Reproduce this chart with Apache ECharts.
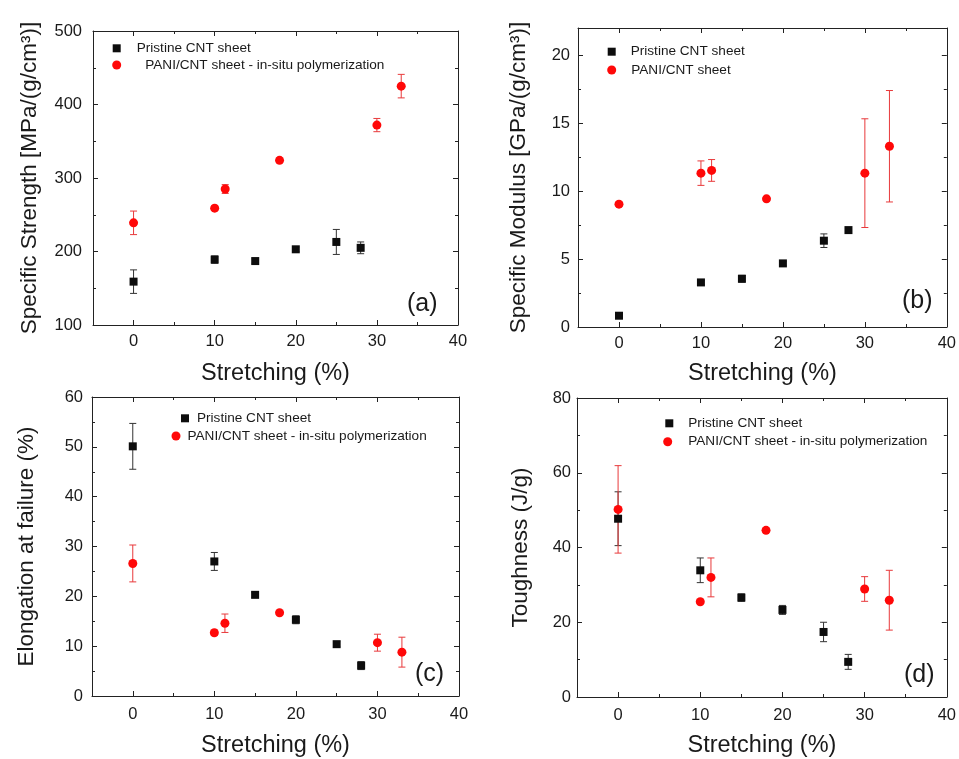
<!DOCTYPE html>
<html>
<head>
<meta charset="utf-8">
<script src="https://cdn.jsdelivr.net/npm/echarts@6/dist/echarts.min.js"></script>
<style>html,body{margin:0;padding:0;background:#fff}#c{width:959px;height:759px}</style>
</head>
<body>
<div id="c"></div>
<script>
// ---------- data ----------
const stretchPristine = [0, 10, 15, 20, 25, 28];
const stretchPani = [0, 10, 11.3, 18, 30, 33];

const strengthPristine = [159, 189, 187, 203, 213, 205];
const strengthPristineErr = [16, 5, 3, 3, 17, 8];
const strengthPani = [239, 259, 285, 324, 372, 425];
const strengthPaniErr = [16, 3, 6, 3, 9, 16];

const modulusPristine = [0.83, 3.28, 3.55, 4.68, 6.35, 7.13];
const modulusPristineErr = [0.1, 0.15, 0.25, 0.15, 0.5, 0.15];
const modulusPani = [9.04, 11.32, 11.52, 9.43, 11.32, 13.3];
const modulusPaniErr = [0.15, 0.9, 0.8, 0.15, 4.0, 4.1];

const elongPristine = [50.1, 27.0, 20.3, 15.3, 10.4, 6.1];
const elongPristineErr = [4.6, 1.8, 0.5, 0.8, 0.5, 0.8];
const elongPani = [26.6, 12.7, 14.6, 16.7, 10.7, 8.8];
const elongPaniErr = [3.7, 0.5, 1.85, 0.3, 1.7, 3.0];

const toughPristine = [47.7, 33.9, 26.6, 23.3, 17.4, 9.4];
const toughPristineErr = [7.2, 3.3, 1.0, 1.2, 2.6, 2.0];
const toughPani = [50.2, 25.5, 32.0, 44.6, 28.9, 25.9];
const toughPaniErr = [11.7, 0.5, 5.2, 0.5, 3.3, 8.0];

const xTicks = [0, 10, 20, 30, 40];
const xMinorTicks = [5, 15, 25, 35];
const strengthTicks = [100, 200, 300, 400, 500];
const strengthMinor = [150, 250, 350, 450];
const modulusTicks = [0, 5, 10, 15, 20];
const modulusMinor = [2.5, 7.5, 12.5, 17.5];
const elongTicks = [0, 10, 20, 30, 40, 50, 60];
const elongMinor = [5, 15, 25, 35, 45, 55];
const toughTicks = [0, 20, 40, 60, 80];
const toughMinor = [10, 30, 50, 70];

const namePristine = 'Pristine CNT sheet';
const namePaniInSitu = 'PANI/CNT sheet - in-situ polymerization';
const namePani = 'PANI/CNT sheet';
const xTitle = 'Stretching (%)';

// ---------- layout ----------
const FONT = '"Liberation Sans", Arial, sans-serif';
const TXT = '#1a1a1a';
const panels = [
  {grid: {left: 93, top: 31, width: 365, height: 294}, yMin: 100, yMax: 500, yTicks: strengthTicks, yMinor: strengthMinor,
   yName: 'Specific Strength [MPa/(g/cm³)]', yNameGap: 52, yLabelMargin: 11, xLabelMargin: 8, xNameGap: 37,
   p: strengthPristine, pe: strengthPristineErr, r: strengthPani, re: strengthPaniErr, rName: namePaniInSitu,
   label: '(a)', labelPos: [407, 292],
   leg: [[116.7, 48.3, 11], [116.7, 65, 19]]},
  {grid: {left: 578, top: 28, width: 370, height: 299}, yMin: 0, yMax: 22, yTicks: modulusTicks, yMinor: modulusMinor,
   yName: 'Specific Modulus [GPa/(g/cm³)]', yNameGap: 48, yLabelMargin: 8, xLabelMargin: 8, xNameGap: 35,
   p: modulusPristine, pe: modulusPristineErr, r: modulusPani, re: modulusPaniErr, rName: namePani,
   label: '(b)', labelPos: [902, 289],
   leg: [[611.7, 51.7, 10], [611.7, 70, 10]]},
  {grid: {left: 92, top: 397, width: 367, height: 299}, yMin: 0, yMax: 60, yTicks: elongTicks, yMinor: elongMinor,
   yName: 'Elongation at failure (%)', yNameGap: 54, yLabelMargin: 9, xLabelMargin: 10, xNameGap: 38,
   p: elongPristine, pe: elongPristineErr, r: elongPani, re: elongPaniErr, rName: namePaniInSitu,
   label: '(c)', labelPos: [415, 662],
   leg: [[185, 418.3, 3], [176, 436, 2]]},
  {grid: {left: 577, top: 398, width: 371, height: 299}, yMin: 0, yMax: 80, yTicks: toughTicks, yMinor: toughMinor,
   yName: 'Toughness (J/g)', yNameGap: 45, yLabelMargin: 6, xLabelMargin: 10, xNameGap: 37,
   p: toughPristine, pe: toughPristineErr, r: toughPani, re: toughPaniErr, rName: namePaniInSitu,
   label: '(d)', labelPos: [904, 663],
   leg: [[669.3, 423.3, 10], [667.7, 441.7, 11]]}
];

const axisLineStyle = {color: '#222', width: 1};
function makeAxes(g, pos, min, max, majors, minors, main) {
  const base = {gridIndex: g, type: 'value', position: pos, min: min, max: max, splitLine: {show: false}};
  const a = Object.assign({}, base, {
    axisLine: {show: true, onZero: false, lineStyle: axisLineStyle},
    axisTick: {show: true, inside: true, length: 5, customValues: majors, lineStyle: axisLineStyle},
    axisLabel: main ? Object.assign({show: true, customValues: majors, fontFamily: FONT, fontSize: 16.5, color: TXT}, main.label)
                    : {show: false}
  });
  if (main && main.name) Object.assign(a, main.name);
  const b = Object.assign({}, base, {
    axisLine: {show: false, onZero: false},
    axisTick: {show: true, inside: true, length: 3, customValues: minors, lineStyle: axisLineStyle},
    axisLabel: {show: false}
  });
  return [a, b];
}

function errRender(color) {
  return function (params, api) {
    const x = api.value(0), y = api.value(1), e = api.value(2);
    const t = api.coord([x, y + e]);
    const b = api.coord([x, y - e]);
    const w = 3.5;
    const st = {stroke: color, lineWidth: 1};
    return {type: 'group', children: [
      {type: 'line', shape: {x1: t[0], y1: t[1], x2: b[0], y2: b[1]}, style: st},
      {type: 'line', shape: {x1: t[0] - w, y1: t[1], x2: t[0] + w, y2: t[1]}, style: st},
      {type: 'line', shape: {x1: b[0] - w, y1: b[1], x2: b[0] + w, y2: b[1]}, style: st}
    ]};
  };
}

const option = {animation: false, backgroundColor: '#fff', grid: [], xAxis: [], yAxis: [], series: [], legend: [], title: []};
const BLACK = '#0d0d0d', RED = '#ff0808', REDERR = '#e8393b', BLACKERR = '#333';

panels.forEach((P, g) => {
  option.grid.push(Object.assign({containLabel: false}, P.grid));
  const xMain = {label: {margin: P.xLabelMargin},
    name: {name: xTitle, nameLocation: 'middle', nameGap: P.xNameGap, nameTextStyle: {fontFamily: FONT, fontSize: 23.5, color: TXT}}};
  const yMain = {label: {margin: P.yLabelMargin},
    name: {name: P.yName, nameLocation: 'middle', nameGap: P.yNameGap, nameTextStyle: {fontFamily: FONT, fontSize: 22.5, color: TXT}}};
  option.xAxis.push(...makeAxes(g, 'bottom', -5, 40, xTicks, xMinorTicks, xMain));
  option.xAxis.push(...makeAxes(g, 'top', -5, 40, xTicks, xMinorTicks, null));
  option.yAxis.push(...makeAxes(g, 'left', P.yMin, P.yMax, P.yTicks, P.yMinor, yMain));
  option.yAxis.push(...makeAxes(g, 'right', P.yMin, P.yMax, P.yTicks, P.yMinor, null));
  const xi = 4 * g, yi = 4 * g;
  const pData = stretchPristine.map((x, i) => [x, P.p[i], P.pe[i]]);
  const rData = stretchPani.map((x, i) => [x, P.r[i], P.re[i]]);
  option.series.push(
    {type: 'custom', name: 'err-p-' + g, xAxisIndex: xi, yAxisIndex: yi, data: pData, encode: {x: 0, y: 1}, renderItem: errRender(BLACKERR), z: 1, silent: true},
    {type: 'custom', name: 'err-r-' + g, xAxisIndex: xi, yAxisIndex: yi, data: rData, encode: {x: 0, y: 1}, renderItem: errRender(REDERR), z: 1, silent: true},
    {type: 'scatter', name: namePristine, xAxisIndex: xi, yAxisIndex: yi, data: pData.map(d => [d[0], d[1]]), symbol: 'rect', symbolSize: 8, itemStyle: {color: BLACK, opacity: 1}, z: 3},
    {type: 'scatter', name: P.rName, xAxisIndex: xi, yAxisIndex: yi, data: rData.map(d => [d[0], d[1]]), symbol: 'circle', symbolSize: 9, itemStyle: {color: RED, opacity: 1}, z: 3}
  );
  const legNames = [namePristine, P.rName];
  const sizes = [8, 9];
  P.leg.forEach((L, k) => {
    const s = sizes[k];
    option.legend.push({
      data: [legNames[k]], selectedMode: false, padding: 0,
      left: L[0] - s / 2, top: L[1] - 8,
      itemWidth: s, itemHeight: s,
      textStyle: {fontFamily: FONT, fontSize: 13.6, color: TXT, padding: [0, 0, 0, L[2]], lineHeight: 16}
    });
  });
  option.title.push({text: P.label, left: P.labelPos[0], top: P.labelPos[1], padding: 0,
    textStyle: {fontFamily: FONT, fontSize: 25, fontWeight: 'normal', color: TXT}});
});

const chart = echarts.init(document.getElementById('c'), null, {renderer: 'canvas'});
chart.setOption(option);
</script>
</body>
</html>
